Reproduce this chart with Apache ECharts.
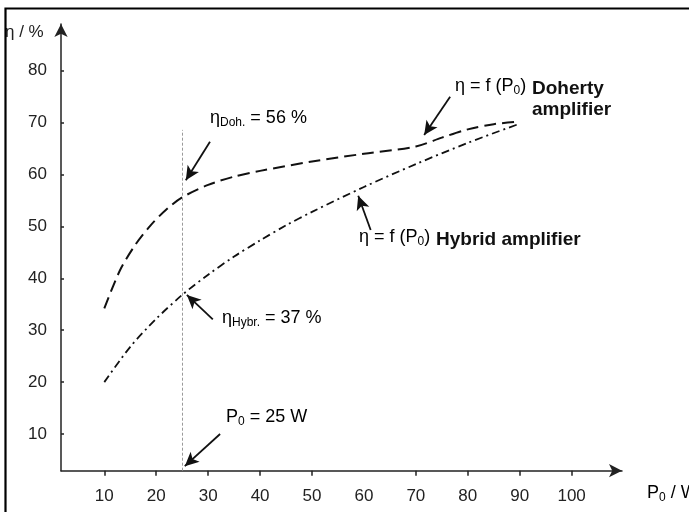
<!DOCTYPE html>
<html><head><meta charset="utf-8">
<script src="https://cdn.jsdelivr.net/npm/echarts@6/dist/echarts.min.js"></script>
<style>html,body{margin:0;padding:0;background:#fff;}#c{width:689px;height:512px;}</style>
</head><body><div id="c"></div>
<script>
// ---- data ----
const dohertyX = [10, 13, 16, 19, 22, 25, 30, 35, 40, 50, 60, 70, 75, 80, 85, 90];
const dohertyY = [34.2, 41.5, 46.5, 50.3, 53.3, 55.6, 58.0, 59.6, 60.7, 62.5, 64.0, 65.4, 67.1, 68.7, 69.7, 70.2];
const hybridX = [10, 15, 20, 25, 30, 35, 40, 45, 50, 60, 70, 80, 90];
const hybridY = [20, 26.8, 32.2, 36.8, 40.7, 44.2, 47.3, 50.2, 52.8, 57.6, 62.0, 66.1, 69.8];
const xTickValues = [10, 20, 30, 40, 50, 70, 80, 90, 100];
const xLabelValues = [10, 20, 30, 40, 50, 60, 70, 80, 90, 100];
const yLabelValues = [10, 20, 30, 40, 50, 60, 70, 80];
const markerP0 = 25;
const markerTop = 68.6;
// annotation arrows: [tailX, tailY, tipX, tipY] in data units
const arrowDoh = [30.35, 66.3, 25.7, 58.9];
const arrowHyb = [30.9, 32.1, 25.9, 36.8];
const arrowDohCurve = [76.6, 75, 71.6, 67.6];
const arrowHybCurve = [61.3, 49.3, 58.9, 55.9];
const arrowP0 = [32.3, 10, 25.5, 3.8];

const X_MIN = 1.66, X_MAX = 109.7, Y_MIN = 2.93, Y_MAX = 89.0;
const FONT = 'Liberation Sans, Arial, sans-serif';
const TXT = '#222';

const chart = echarts.init(document.getElementById('c'));
function pairs(xs, ys){ return xs.map((x,i)=>[x, ys[i]]); }
function arrow(a){
  return [{coord:[a[0],a[1]], symbol:'none'}, {coord:[a[2],a[3]], symbol:'arrow'}];
}
const sub = {fontSize: 12, fontFamily: FONT, color: TXT, padding:[10,0,0,0]};
const norm = {fontSize: 18, fontFamily: FONT, color: TXT};

chart.setOption({
  animation: false,
  grid: {left: 61, right: 67, top: 24, bottom: 41.3, containLabel: false},
  xAxis: {
    type: 'value', min: X_MIN, max: X_MAX,
    splitLine: {show: false},
    axisLine: {show: true, symbol: ['none','arrow'], symbolSize: [10, 13],
      lineStyle: {color: '#222', width: 1.5}},
    axisTick: {show: true, customValues: xTickValues, length: 5, lineStyle: {color: '#222', width: 1.5}},
    axisLabel: {customValues: xLabelValues, margin: 17, fontSize: 17, fontFamily: FONT, color: TXT}
  },
  yAxis: {
    type: 'value', min: Y_MIN, max: Y_MAX,
    splitLine: {show: false},
    axisLine: {show: true, symbol: ['none','arrow'], symbolSize: [10, 13],
      lineStyle: {color: '#222', width: 1.5}},
    axisTick: {show: true, inside: true, customValues: yLabelValues, length: 3, lineStyle: {color: '#222', width: 1.5}},
    axisLabel: {customValues: yLabelValues, margin: 14, fontSize: 17, fontFamily: FONT, color: TXT}
  },
  series: [
    {type: 'line', data: pairs(dohertyX, dohertyY), smooth: 0.3, symbol: 'none',
      lineStyle: {color: '#111', width: 2, type: [12, 6]}},
    {type: 'line', data: pairs(hybridX, hybridY), smooth: 0.3, symbol: 'none',
      lineStyle: {color: '#111', width: 1.8, type: [8, 4, 2, 4]}},
    {type: 'line', data: [], symbol: 'none',
      markLine: {silent: true, animation: false, symbol: ['none','arrow'], symbolSize: [10, 14],
        label: {show: false},
        lineStyle: {color: '#111', width: 1.8, type: 'solid'},
        data: [
          [{coord:[markerP0, Y_MIN], symbol:'none', lineStyle:{color:'#9a9a9a', width:1, type:[3,2]}},
           {coord:[markerP0, markerTop], symbol:'none'}],
          arrow(arrowDoh), arrow(arrowHyb), arrow(arrowDohCurve), arrow(arrowHybCurve), arrow(arrowP0)
        ]}}
  ],
  graphic: [
    {type:'rect', left: 3, top: 6, shape:{width: 800, height: 700}, style:{fill:'none', stroke:'#000', lineWidth: 2.2}, silent:true, z: 100},
    {type:'text', left: 5, top: 24, style:{text:'η / %', font:'17px '+FONT, fill: TXT}},
    {type:'text', left: 210, top: 109, style:{text:'{a|η}{s|Doh.}{a| = 56 %}', rich:{a:norm, s:sub}}},
    {type:'text', left: 222, top: 309, style:{text:'{a|η}{s|Hybr.}{a| = 37 %}', rich:{a:norm, s:sub}}},
    {type:'text', left: 455, top: 77, style:{text:'{a|η = f (P}{s|0}{a|)}', rich:{a:norm, s:sub}}},
    {type:'text', left: 532, top: 79, style:{text:'Doherty', font:'bold 19px '+FONT, fill: '#111'}},
    {type:'text', left: 532, top: 100, style:{text:'amplifier', font:'bold 19px '+FONT, fill: '#111'}},
    {type:'text', left: 359, top: 228, style:{text:'{a|η = f (P}{s|0}{a|)}', rich:{a:norm, s:sub}}},
    {type:'text', left: 436, top: 230, style:{text:'Hybrid amplifier', font:'bold 19px '+FONT, fill: '#111'}},
    {type:'text', left: 226, top: 408, style:{text:'{a|P}{s|0}{a| = 25 W}', rich:{a:norm, s:sub}}},
    {type:'text', left: 647, top: 484, style:{text:'{a|P}{s|0}{a| / W}', rich:{a:norm, s:sub}}}
  ]
});
</script></body></html>
